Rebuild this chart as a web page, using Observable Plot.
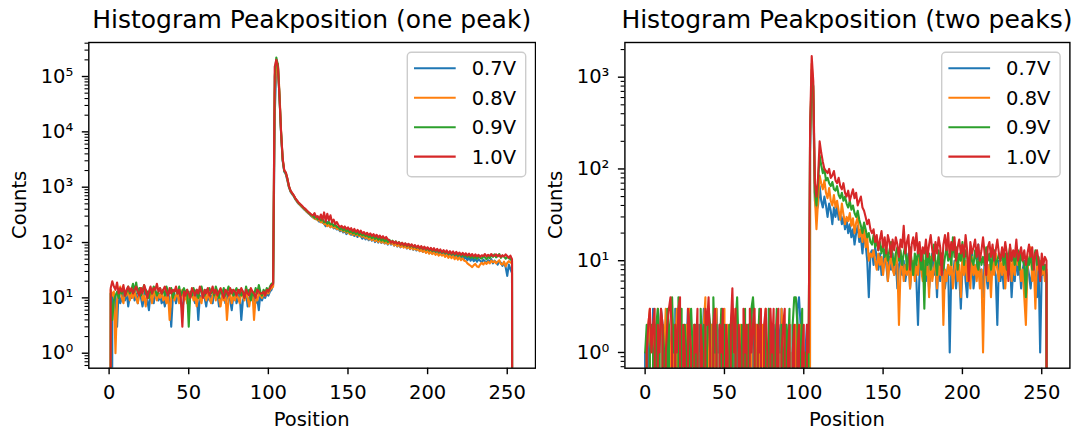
<!DOCTYPE html>
<html><head><meta charset="utf-8">
<script src="https://cdn.jsdelivr.net/npm/d3@7"></script>
<script src="https://cdn.jsdelivr.net/npm/@observablehq/plot@0.6"></script>
<style>
body{margin:0;background:#fff;}
#wrap{position:relative;width:1071px;height:429px;overflow:hidden;}
#wrap svg{position:absolute;top:0;}
</style></head><body><div id="wrap"></div>
<script>
const positions = d3.range(256);
const seriesNames = ["0.7V","0.8V","0.9V","1.0V"];
const seriesColors = ["#1f77b4","#ff7f0e","#2ca02c","#d62728"];
const xTicks = [0,50,100,150,200,250];
const yTicksOne = [1,10,100,1000,10000,100000];
const yTicksTwo = [1,10,100,1000];

const one07 = [
0,0,12,9,11,3,14,8,10,12,9,13,7,11,10,14,
9,12,8,13,10,7,11,14,9,6,12,10,8,13,11,9,
12,8,10,7,11,13,9,3,10,12,8,11,14,9,6,10,
12,9,7,11,13,10,8,12,4,11,9,13,10,7,12,9,
11,8,13,10,12,7,9,11,14,8,10,12,9,6,11,13,
8,10,12,4,9,11,13,7,10,12,9,11,8,10,6,12,
9,11,10,12,11,13,14,17,20000,160000,165000,45000,9000,3000,1900,1700,
1300,980,820,740,680,600,545,500,470,440,410,385,360,340,320,300,
285,300,262,270,238,255,228,222,198,236,205,190,212,180,186,172,
178,160,170,152,165,142,158,150,138,148,132,146,126,138,130,118,
130,114,126,110,121,108,118,102,114,100,112,98,108,96,104,92,
104,92,100,88,97,85,94,82,91,84,88,78,86,76,84,74,
81,72,79,70,77,68,75,66,73,64,71,63,69,62,67,60,
66,59,65,57,63,56,62,54,61,53,59,52,57,51,56,50,
55,48,54,47,52,46,51,45,50,47,44,49,46,43,48,45,
50,42,47,44,40,46,43,38,44,36,25,40,33,28,0,0];
const one08 = [
0,14,11,13,1,9,12,16,10,8,13,11,15,9,12,10,
13,10,8,12,15,9,11,7,13,10,12,8,14,11,9,12,
10,13,9,11,8,12,4,10,13,9,11,12,8,10,14,9,
11,8,12,10,13,9,11,7,12,10,8,13,11,9,12,10,
8,11,13,9,12,10,7,11,9,13,4,10,12,8,11,9,
12,10,8,13,11,9,12,10,7,11,13,4,10,9,12,11,
10,12,11,13,12,14,15,16,50000,180000,170000,50000,10000,3200,2000,1750,
1350,1000,840,760,690,610,555,510,475,445,415,390,365,345,325,305,
290,268,282,250,262,232,245,215,220,198,212,190,205,185,196,176,
182,165,176,158,168,150,160,142,156,138,150,134,145,130,140,126,
134,120,130,114,126,110,122,106,117,103,114,100,110,97,106,94,
101,95,98,89,96,86,93,83,90,81,88,79,85,77,83,75,
78,74,76,70,74,68,72,65,70,63,68,62,66,60,64,58,
62,58,61,55,60,53,58,52,57,50,55,49,54,48,52,47,
46,42,40,38,36,39,41,37,36,40,43,40,44,41,45,42,
47,44,46,42,45,48,41,40,45,37,43,46,44,42,0,0];
const one09 = [
0,12,4,9,11,13,10,14,12,15,11,13,16,12,14,18,
13,19,12,15,11,14,17,12,13,10,15,12,16,14,11,13,
15,12,14,11,16,13,12,15,10,13,14,12,16,11,13,15,
12,14,3,13,11,15,12,14,10,13,16,12,11,14,13,15,
12,14,11,16,13,10,14,12,15,11,13,16,12,14,11,13,
15,12,14,11,13,10,16,12,14,9,13,11,15,12,17,13,
11,14,12,15,13,16,18,19,100000,220000,160000,40000,9500,3100,1950,1800,
1400,1010,850,770,700,620,565,520,485,455,425,400,375,352,332,312,
300,280,295,262,275,250,268,232,240,220,236,212,222,200,210,192,
190,172,185,165,178,158,170,152,164,147,158,142,152,138,148,134,
142,130,138,125,134,120,130,116,126,112,122,108,118,105,115,102,
112,100,108,97,105,94,102,91,99,88,96,86,94,84,91,82,
88,80,86,78,84,76,82,74,80,72,78,70,76,69,74,67,
72,66,70,64,69,62,67,61,66,60,64,58,63,57,61,56,
60,55,59,53,58,52,57,51,56,53,51,57,54,50,55,52,
59,55,61,54,58,62,53,58,56,51,55,52,50,47,0,0];
const one10 = [
0,15,20,16,14,19,12,15,13,17,11,14,16,13,15,12,
14,16,13,11,15,12,17,14,10,13,16,12,15,14,18,13,
15,12,14,16,13,11,15,12,14,13,16,12,14,10,3,13,
11,14,12,10,15,13,11,14,12,16,13,10,14,12,15,11,
13,16,12,14,11,13,15,12,10,14,13,11,15,12,14,13,
11,14,12,15,13,10,14,12,11,15,13,12,10,14,13,12,
12,13,11,14,13,15,17,18,150000,200000,150000,42000,9800,3300,2000,1850,
1420,1030,860,780,710,630,575,530,495,465,435,410,385,360,340,320,
310,340,288,300,265,320,258,350,240,330,252,310,230,260,215,235,
205,190,200,182,195,175,188,168,182,160,176,155,170,150,164,146,
155,140,150,136,146,132,142,128,138,124,134,120,130,117,126,114,
110,100,106,97,104,95,101,92,99,90,97,88,95,86,93,84,
90,82,88,79,86,77,84,76,82,74,80,72,79,71,77,69,
75,67,73,66,72,64,70,63,69,62,68,61,66,60,65,59,
64,58,63,57,62,56,61,56,60,55,59,57,62,56,60,57,
62,57,58,61,56,60,55,59,56,61,57,53,58,50,0,0];

const two07 = [
1,0,2,1,0,3,1,2,0,1,3,2,0,1,2,0,
1,2,0,3,1,0,2,1,0,2,1,3,0,1,0,2,
1,0,2,0,1,3,0,2,1,0,2,1,0,3,1,2,
0,1,2,0,1,0,2,3,1,0,2,1,0,1,2,0,
1,2,0,1,3,0,2,1,0,2,0,1,2,0,3,1,
0,2,1,0,2,1,3,0,1,2,0,1,0,2,1,0,
3,4,2,1,0,1,2,0,150,1200,500,45,35,40,65,45,
38,50,40,30,42,35,25,38,30,40,28,33,25,30,22,28,
20,25,18,22,15,20,24,16,18,12,20,15,10,4,12,13,
9,14,11,8,12,7,10,13,9,6,11,8,12,7,10,5,
9,11,7,10,6,8,12,5,9,7,10,6,2,8,11,7,
9,6,10,5,8,12,7,9,4,11,6,8,10,5,7,9,
1,8,6,10,5,9,7,3,8,11,6,4,9,7,13,5,
7,9,15,6,8,4,10,7,5,9,6,11,8,7,2,10,
6,9,5,8,12,7,10,4,8,6,11,7,9,5,8,10,
6,9,7,5,8,10,6,4,9,1,8,7,9,6,0,0];
const two08 = [
0,1,2,3,0,1,2,0,3,1,0,2,1,3,0,2,
1,0,2,1,3,0,1,2,0,1,2,0,3,1,0,2,
1,2,0,1,0,2,4,0,3,1,2,0,1,3,0,2,
0,1,3,0,2,1,0,2,1,3,0,1,2,0,1,2,
0,2,1,3,0,1,2,0,1,0,2,1,3,0,1,0,
2,1,0,2,1,0,3,1,2,0,1,2,0,1,0,2,
1,0,2,0,1,0,1,0,200,1400,700,50,22,45,85,70,
60,75,55,48,62,45,40,52,38,45,35,28,42,32,25,30,
27,33,24,29,20,26,30,18,22,16,25,14,18,10,12,11,
13,10,8,12,9,11,7,10,13,6,9,11,8,7,12,9,
2,8,10,6,9,7,11,5,8,10,6,9,7,12,8,6,
10,7,9,4,11,6,8,10,5,9,7,12,2,8,6,9,
7,10,5,8,11,6,9,4,12,7,10,6,8,5,11,7,
9,6,10,5,8,1,7,11,6,9,4,10,7,12,8,6,
10,7,12,5,9,8,14,6,10,7,13,9,11,6,8,4,
2,8,10,14,6,9,3,11,8,10,7,9,6,8,0,0];
const two09 = [
1,2,0,1,2,1,0,2,3,1,0,2,1,0,3,2,
0,4,1,2,0,4,1,3,0,2,1,0,2,3,1,0,
2,1,0,3,1,2,0,1,3,2,0,4,1,2,0,1,
3,0,2,1,0,2,1,3,0,2,4,1,0,2,1,3,
0,2,1,3,4,2,0,1,3,2,0,1,2,0,3,1,
2,0,1,3,1,0,2,1,0,2,1,3,0,2,4,4,
2,0,1,3,0,1,0,1,250,1000,800,55,40,70,140,110,
90,100,75,80,70,65,72,60,58,65,52,48,55,45,50,42,
38,45,36,40,33,30,35,28,24,20,26,22,18,20,16,15,
19,14,17,13,16,12,15,11,14,10,13,16,11,9,12,14,
10,13,9,12,15,8,11,14,10,7,12,9,13,11,8,12,
3,14,9,12,8,11,15,10,7,13,9,12,8,11,14,10,
12,9,18,11,14,8,12,10,16,9,13,11,8,12,10,9,
13,10,8,12,9,11,9,14,10,12,8,11,13,9,10,12,
10,13,9,12,8,11,14,10,12,9,11,13,8,12,10,9,
4,11,9,12,8,10,13,9,11,7,10,8,9,7,0,0];
const two10 = [
0,1,2,3,1,2,3,0,2,1,3,2,0,1,2,3,
4,1,0,2,1,3,4,0,2,1,0,3,2,1,0,2,
1,3,0,2,1,0,3,2,4,1,0,2,3,1,0,2,
1,3,0,2,1,0,2,5,1,3,0,2,1,0,3,1,
2,0,3,1,2,3,0,2,1,3,0,2,3,1,0,3,
1,3,0,2,3,0,1,2,3,0,1,2,0,1,2,0,
1,2,0,1,2,0,2,1,300,1700,900,70,50,80,200,150,
120,100,95,90,100,80,85,95,75,70,80,65,60,70,55,50,
58,45,52,60,48,55,40,45,50,38,35,30,25,28,22,20,
22,16,19,13,17,21,14,18,12,19,16,11,17,13,18,15,
11,17,14,24,12,16,19,8,15,18,13,20,12,16,10,14,
12,17,11,15,19,13,10,16,12,18,14,7,15,19,13,20,
11,16,13,18,10,14,17,12,15,11,19,13,6,16,12,14,
17,11,15,10,13,18,12,7,14,16,11,15,10,13,17,12,
10,14,11,16,12,6,15,10,13,11,17,10,12,14,10,13,
9,12,15,11,14,8,12,13,10,6,12,9,11,10,0,0];

for (const [n,a] of Object.entries({one07,one08,one09,one10,two07,two08,two09,two10}))
  if (a.length !== 256) throw new Error(n + " has " + a.length);

const sup = {"0":"⁰","1":"¹","2":"²","3":"³","4":"⁴","5":"⁵","-":"⁻"};
const fmtPow = d => "10" + String(Math.round(Math.log10(d))).split("").map(c => sup[c]).join("");
const FONT = "DejaVu Sans";

function panel(cfg) {
  const W = cfg.width, H = 429;
  const mT = 42, mB = 61.3;
  const minor = [];
  for (let k = -1; k <= 6; k++) for (let m = 2; m <= 9; m++) {
    const v = m * Math.pow(10, k);
    if (v >= cfg.yDomain[0] && v <= cfg.yDomain[1]) minor.push(v);
  }
  const marks = [];
  cfg.series.forEach((vals, i) => {
    const data = positions.map((p, j) => ({x: p, y: vals[j]}));
    marks.push(Plot.line(data, {x: "x", y: d => d.y > 0 ? d.y : 1e-30,
      stroke: seriesColors[i], strokeWidth: 2.1, clip: true}));
  });
  marks.push(Plot.axisY({ticks: minor, tickSize: 3.8, strokeWidth: 1.1, tickFormat: () => "", label: null}));
  marks.push(Plot.axisY({ticks: cfg.yTicks, tickSize: 6.5, strokeWidth: 1.4, tickPadding: 9,
    tickFormat: fmtPow, label: null, fontSize: 19.5}));
  marks.push(Plot.axisX({ticks: xTicks, tickSize: 6.5, strokeWidth: 1.4, tickPadding: 10,
    tickFormat: d => String(d), label: null, fontSize: 19.5}));
  marks.push(Plot.frame({stroke: "black", strokeWidth: 1.4}));
  const svg = Plot.plot({
    width: W, height: H,
    marginTop: mT, marginBottom: mB, marginLeft: cfg.mL, marginRight: cfg.mR,
    x: {domain: [-12.75, 267.75]},
    y: {type: "log", domain: cfg.yDomain},
    style: {fontFamily: FONT, fontSize: "19.5px", color: "black", background: "white"},
    marks
  });
  svg.style.left = cfg.left + "px";
  const s = d3.select(svg);
  const fL = cfg.mL, fR = W - cfg.mR, fT = mT, fB = H - mB;
  const cx = (fL + fR) / 2;
  s.append("text").attr("x", cx).attr("y", 28.3).attr("text-anchor", "middle")
    .attr("font-family", FONT).attr("font-size", 25).attr("fill", "black").text(cfg.title);
  s.append("text").attr("x", cx).attr("y", 425.5).attr("text-anchor", "middle")
    .attr("font-family", FONT).attr("font-size", 19.5).attr("fill", "black").text("Position");
  s.append("text").attr("transform", `translate(${fL - 62.8},${(fT + fB) / 2}) rotate(-90)`)
    .attr("text-anchor", "middle").attr("font-family", FONT).attr("font-size", 19.5)
    .attr("fill", "black").text("Counts");
  const bw = 118.4, bh = 124.4;
  const bx = fR - 9.3 - bw, by = fT + 10.3;
  const g = s.append("g");
  g.append("rect").attr("x", bx).attr("y", by).attr("width", bw).attr("height", bh)
    .attr("rx", 4).attr("fill", "white").attr("fill-opacity", 0.8)
    .attr("stroke", "#cccccc").attr("stroke-width", 1.4);
  seriesNames.forEach((name, i) => {
    const ry = by + 16 + i * 29.45;
    g.append("line").attr("x1", bx + 6.7).attr("x2", bx + 48.4).attr("y1", ry).attr("y2", ry)
      .attr("stroke", seriesColors[i]).attr("stroke-width", 2.1);
    g.append("text").attr("x", bx + 64.4).attr("y", ry + 7).attr("text-anchor", "start")
      .attr("font-family", FONT).attr("font-size", 19.5).attr("fill", "black").text(name);
  });
  document.getElementById("wrap").appendChild(svg);
}

panel({title: "Histogram Peakposition (one peak)", series: [one07, one08, one09, one10],
  yDomain: [0.536, 411700], yTicks: yTicksOne, left: 0, width: 536, mL: 88.3, mR: 1});
panel({title: "Histogram Peakposition (two peaks)", series: [two07, two08, two09, two10],
  yDomain: [0.674, 2388], yTicks: yTicksTwo, left: 536, width: 535, mL: 88.4, mR: 1.6});
</script></body></html>
